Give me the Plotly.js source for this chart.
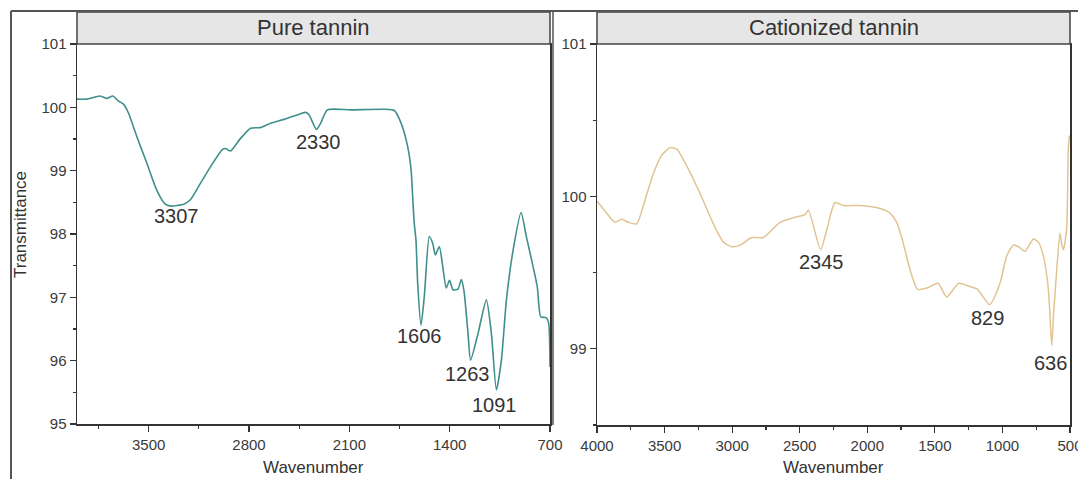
<!DOCTYPE html>
<html>
<head>
<meta charset="utf-8">
<script src="https://cdn.plot.ly/plotly-3.0.1.min.js"></script>
<style>html,body{margin:0;padding:0;background:#fff;}#chart{width:1078px;height:479px;}</style>
</head>
<body>
<div id="chart"></div>
<script>
// ---- Data ----
const pureWavenumber = [4000,3931,3839,3792,3750,3711,3676,3641,3583,3513,3443,3384,3349,3300,3256,3209,3139,3069,2988,2964,2929,2859,2789,2719,2649,2556,2439,2404,2380,2330,2300,2253,2089,1856,1786,1739,1693,1669,1657,1647,1635,1623,1600,1577,1542,1518,1500,1472,1448,1424,1401,1377,1342,1319,1300,1272,1254,1202,1144,1109,1074,1039,1004,957,902,864,789,764,727,710,700];
const pureTransmittance = [100.13,100.13,100.18,100.14,100.18,100.10,100.05,99.91,99.54,99.12,98.69,98.47,98.44,98.45,98.47,98.54,98.80,99.06,99.33,99.35,99.31,99.51,99.67,99.68,99.75,99.81,99.90,99.92,99.88,99.65,99.75,99.96,99.96,99.97,99.95,99.75,99.38,99.01,98.54,98.17,97.90,97.22,96.56,97.01,97.96,97.85,97.67,97.80,97.48,97.15,97.27,97.12,97.13,97.28,97.10,96.43,96.01,96.43,96.96,96.43,95.54,96.01,96.96,97.75,98.34,97.95,97.17,96.69,96.68,96.60,95.90];

const catWavenumber = [4000,3928,3867,3817,3768,3706,3657,3583,3521,3460,3410,3336,3238,3139,3065,3003,2942,2855,2769,2646,2547,2461,2436,2345,2300,2239,2177,2054,1906,1832,1782,1733,1684,1628,1552,1477,1412,1323,1247,1184,1095,1018,968,919,882,833,771,734,697,660,635,623,598,574,562,549,525,513,505,502];
const catTransmittance = [99.97,99.89,99.83,99.85,99.83,99.82,99.94,100.15,100.27,100.32,100.31,100.20,100.02,99.82,99.70,99.67,99.68,99.73,99.73,99.83,99.86,99.88,99.91,99.65,99.78,99.96,99.94,99.94,99.92,99.89,99.83,99.69,99.52,99.39,99.40,99.43,99.34,99.43,99.41,99.39,99.29,99.43,99.61,99.68,99.67,99.64,99.72,99.70,99.61,99.39,99.02,99.21,99.52,99.76,99.69,99.65,99.78,100.30,100.39,100.40];

const purePeakLabels = ["3307","2330","1606","1263","1091"];
const purePeakX = [3307,2313,1613,1277,1088];
const purePeakY = [98.28,99.45,96.39,95.79,95.30];

const catPeakLabels = ["2345","829","636"];
const catPeakX = [2342,1114,648];
const catPeakY = [99.57,99.20,98.91];

const panelTitles = ["Pure tannin","Cationized tannin"];
const xTitle = "Wavenumber";
const yTitle = "Transmittance";

// ---- Layout helpers (pixel -> paper) ----
const W = 1078, H = 479;
const px = v => v / W;
const py = v => (H - v) / H;
const FONT = "Liberation Sans, Arial, sans-serif";
const AX = '#333';

const traces = [
  {x: pureWavenumber, y: pureTransmittance, xaxis:'x', yaxis:'y', type:'scatter', mode:'lines',
   line:{color:'#3f8f8c', width:1.6, shape:'spline', smoothing:0.6}, hoverinfo:'skip', showlegend:false},
  {x: catWavenumber, y: catTransmittance, xaxis:'x2', yaxis:'y2', type:'scatter', mode:'lines',
   line:{color:'#e2c493', width:1.5, shape:'spline', smoothing:0.6}, hoverinfo:'skip', showlegend:false}
];

function xa(domain, range, tick0, dtick, mtick) {
  return {domain, range, tick0, dtick, ticks:'outside', ticklen:6, tickwidth:1.2, tickcolor:AX,
    showline:true, linecolor:AX, linewidth:1.5, mirror:true, showgrid:false, zeroline:false,
    ticklabeloverflow:'allow',
    tickfont:{family:FONT, size:15, color:'#3a3a3a'},
    minor:{tick0, dtick:mtick, ticks:'outside', ticklen:3, tickwidth:1.2, tickcolor:AX, showgrid:false}};
}

const annotations = [];
purePeakLabels.forEach((t,i)=>annotations.push({x:purePeakX[i], y:purePeakY[i], xref:'x', yref:'y', text:t, showarrow:false,
  font:{family:FONT, size:20, color:'#333'}, xanchor:'center', yanchor:'middle'}));
catPeakLabels.forEach((t,i)=>annotations.push({x:catPeakX[i], y:catPeakY[i], xref:'x2', yref:'y2', text:t, showarrow:false,
  font:{family:FONT, size:20, color:'#333'}, xanchor:'center', yanchor:'middle'}));
annotations.push({x:px(313.5), y:py(28), xref:'paper', yref:'paper', text:panelTitles[0], showarrow:false,
  font:{family:FONT, size:22, color:'#333'}, xanchor:'center', yanchor:'middle'});
annotations.push({x:px(833.5), y:py(28), xref:'paper', yref:'paper', text:panelTitles[1], showarrow:false,
  font:{family:FONT, size:22, color:'#333'}, xanchor:'center', yanchor:'middle'});
annotations.push({x:px(313.5), y:py(467), xref:'paper', yref:'paper', text:xTitle, showarrow:false,
  font:{family:FONT, size:17, color:'#333'}, xanchor:'center', yanchor:'middle'});
annotations.push({x:px(833.5), y:py(467), xref:'paper', yref:'paper', text:xTitle, showarrow:false,
  font:{family:FONT, size:17, color:'#333'}, xanchor:'center', yanchor:'middle'});
annotations.push({x:px(20), y:py(225), xref:'paper', yref:'paper', text:yTitle, showarrow:false, textangle:-90,
  font:{family:FONT, size:17, color:'#333'}, xanchor:'center', yanchor:'middle'});

const frame = '#555';
const shapes = [
  {type:'rect', xref:'paper', yref:'paper', x0:px(77), x1:px(550), y0:py(44), y1:py(12), fillcolor:'#e6e6e6', line:{color:'#444', width:1.5}},
  {type:'rect', xref:'paper', yref:'paper', x0:px(597), x1:px(1070), y0:py(44), y1:py(12), fillcolor:'#e6e6e6', line:{color:'#444', width:1.5}},
  {type:'line', xref:'paper', yref:'paper', x0:px(11), x1:px(11), y0:0, y1:py(11), line:{color:frame, width:2}},
  {type:'line', xref:'paper', yref:'paper', x0:px(11), x1:1, y0:py(11), y1:py(11), line:{color:frame, width:2}},
  {type:'line', xref:'paper', yref:'paper', x0:px(553), x1:px(553), y0:py(425), y1:py(11), line:{color:frame, width:1.5}}
];

const layout = {
  width:W, height:H, margin:{l:0,r:0,t:0,b:0}, paper_bgcolor:'#fff', plot_bgcolor:'#fff',
  showlegend:false,
  xaxis: xa([px(77), px(550)], [4000,700], 700, 700, 350),
  yaxis: Object.assign(xa([py(424), py(44)], [95,101], 95, 1, 0.5), {anchor:'x'}),
  xaxis2: Object.assign(xa([px(597), px(1070)], [4000,500], 500, 500, 250), {anchor:'y2'}),
  yaxis2: Object.assign(xa([py(425), py(44)], [98.5,101], 99, 1, 0.5), {anchor:'x2'}),
  annotations, shapes
};
layout.xaxis.anchor = 'y';
layout.yaxis2.minor.tick0 = 98.5;

Plotly.newPlot('chart', traces, layout, {staticPlot:true, displayModeBar:false});
</script>
</body>
</html>
